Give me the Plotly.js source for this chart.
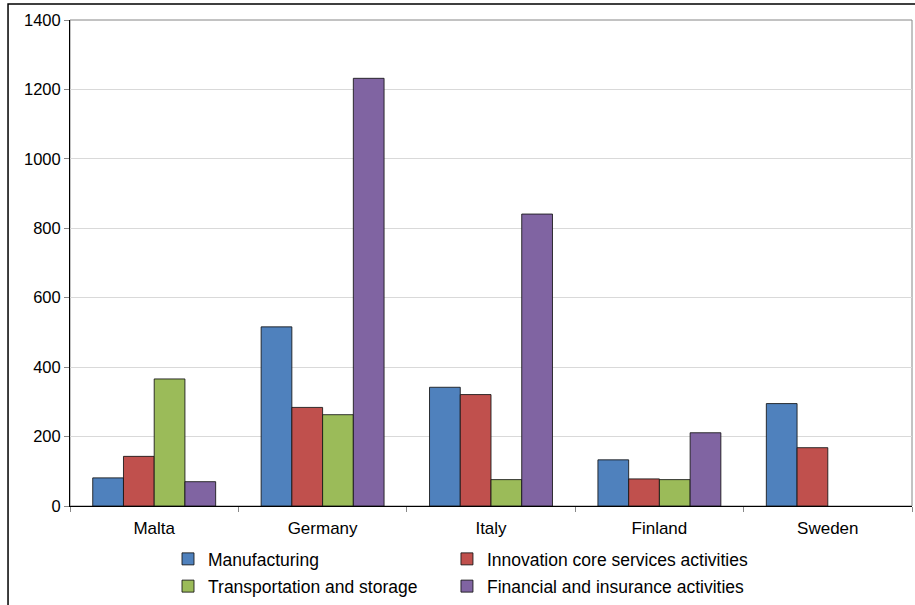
<!DOCTYPE html>
<html>
<head>
<meta charset="utf-8">
<script src="https://cdn.plot.ly/plotly-3.0.1.min.js"></script>
<style>
  html, body { margin: 0; padding: 0; background: #fff; }
  #chart { width: 915px; height: 605px; }
</style>
</head>
<body>
<div id="chart"></div>
<script>
const countries = ["Malta", "Germany", "Italy", "Finland", "Sweden"];
const seriesNames = ["Manufacturing", "Innovation core services activities", "Transportation and storage", "Financial and insurance activities"];
const manufacturing = [81, 516, 342, 133, 295];
const innovation = [143, 284, 321, 78, 168];
const transport = [366, 263, 76, 76, null];
const financial = [70, 1232, 841, 211, null];
const yTicks = [0, 200, 400, 600, 800, 1000, 1200, 1400];

const colors = ["#4F81BD", "#C0504D", "#9BBB59", "#8064A2"];
const values = [manufacturing, innovation, transport, financial];
// legend column for each series (two-column legend like the original)
const legendIds = ["legend", "legend2", "legend", "legend2"];

const traces = values.map((v, i) => ({
  type: "bar",
  name: seriesNames[i],
  x: countries,
  y: v,
  legend: legendIds[i],
  legendgroup: "g" + i,
  marker: { color: colors[i], line: { color: "rgba(20,20,20,0.85)", width: 1 } },
  hoverinfo: "x+y+name"
}));

const legendCommon = {
  orientation: "v",
  xanchor: "left",
  y: -0.072, yanchor: "top",
  font: { size: 17.5, color: "#000" },
  itemclick: false, itemdoubleclick: false,
  traceorder: "grouped",
  tracegroupgap: 1.5,
  bgcolor: "rgba(0,0,0,0)"
};

const layout = {
  width: 915,
  height: 605,
  margin: { l: 70, r: 3, t: 20, b: 98.5, autoexpand: false },
  paper_bgcolor: "#ffffff",
  plot_bgcolor: "#ffffff",
  font: { family: "Arial, 'Liberation Sans', sans-serif", size: 16, color: "#000" },
  barmode: "group",
  bargap: 0.27,
  bargroupgap: 0,
  showlegend: true,
  legend: Object.assign({}, legendCommon, { x: 0.1164 }),
  legend2: Object.assign({}, legendCommon, { x: 0.4477 }),
  xaxis: {
    type: "category",
    showline: true, linecolor: "#000", linewidth: 1,
    ticks: "outside", tickson: "boundaries", ticklen: 5, tickcolor: "#888",
    showgrid: false,
    ticklabelstandoff: 7,
    tickfont: { size: 17, color: "#000" }
  },
  yaxis: {
    range: [0, 1400],
    tickvals: yTicks,
    ticktext: yTicks.map(String),
    showline: true, linecolor: "#000", linewidth: 1,
    ticks: "outside", ticklen: 5, tickcolor: "#888",
    showgrid: true, gridcolor: "#d9d9d9", gridwidth: 1,
    zeroline: false,
    tickfont: { size: 16.5, color: "#000" }
  },
  shapes: [
    { type: "rect", xref: "paper", yref: "paper", x0: 0, x1: 1, y0: 0, y1: 1,
      line: { color: "#868686", width: 1 }, layer: "below" },
    { type: "rect", xref: "paper", yref: "paper", x0: -0.0736, x1: 1.05, y0: -0.25, y1: 1.0329,
      line: { color: "#000", width: 1.5 }, layer: "below" }
  ]
};

Plotly.newPlot("chart", traces, layout, { displayModeBar: false });
</script>
</body>
</html>
